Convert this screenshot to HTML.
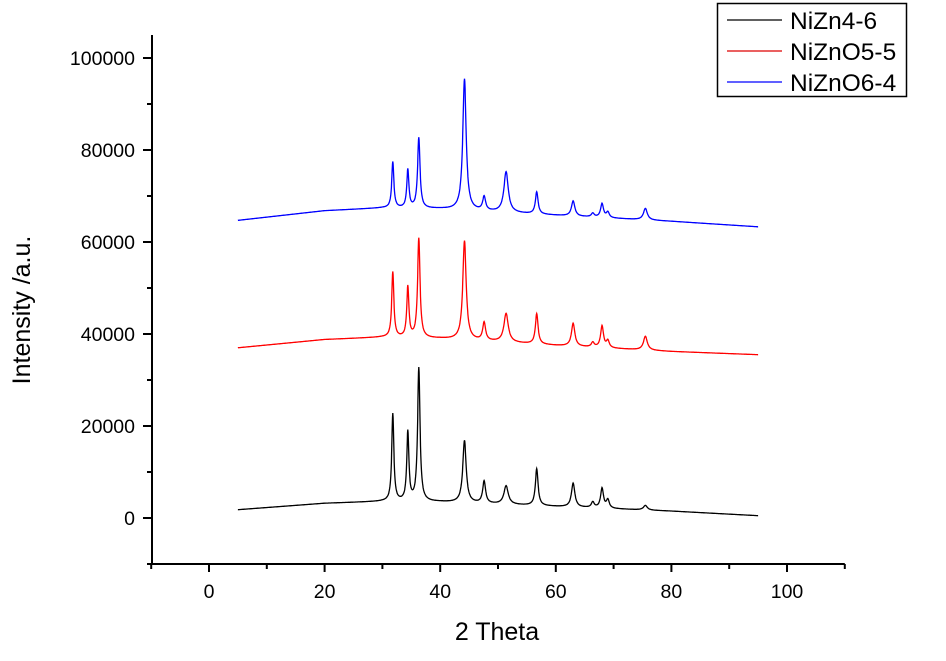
<!DOCTYPE html>
<html><head><meta charset="utf-8"><style>
body{margin:0;background:#fff}
svg{display:block;font-family:"Liberation Sans",Arial,sans-serif}
</style></head><body>
<svg id="chart" width="946" height="661" viewBox="0 0 946 661"></svg>
<script>
// ---- data ----
const peakPositions = [31.8, 34.4, 36.3, 44.2, 47.6, 51.4, 56.7, 63.0, 66.4, 68.0, 69.0, 75.5];
const peakWidths    = [0.22, 0.22, 0.25, 0.35, 0.3, 0.45, 0.28, 0.35, 0.3, 0.3, 0.3, 0.4];
const blackPeaks = [19000, 15000, 29000, 13500, 4800, 4000, 8000, 5200, 1200, 4300, 1800, 1000];
const redPeaks   = [14200, 11000, 21600, 21500, 3900, 6200, 6600, 5000, 1000, 4700, 1500, 3000];
const bluePeaks  = [10000, 8300, 15300, 28500, 3000, 8800, 4800, 3300, 800, 3000, 1200, 2500];
const baseX      = [5, 20, 30, 40, 50, 60, 80, 95];
const blackBase  = [1800, 3200, 3600, 3500, 3000, 2500, 1500, 500];
const redBase    = [37000, 38800, 39300, 39000, 38300, 37500, 36200, 35500];
const blueBase   = [64700, 66800, 67400, 67200, 66500, 65800, 64500, 63300];
const seriesNames = ["NiZn4-6", "NiZnO5-5", "NiZnO6-4"];
const xTicks = [0, 20, 40, 60, 80, 100];
const yTicks = [0, 20000, 40000, 60000, 80000, 100000];

// ---- axes ----
const X = v => 209 + v * 5.78;
const Y = v => 518 - v * 0.0046;
const NS = "http://www.w3.org/2000/svg";
const svg = document.getElementById("chart");
function mk(tag, attrs, parent){const e=document.createElementNS(NS,tag);for(const k in attrs)e.setAttribute(k,attrs[k]);(parent||svg).appendChild(e);return e;}

const axes = mk("g",{});


const yAxis = mk("line",{x1:152,y1:Y(105000),x2:152,y2:Y(-10000),stroke:"#000","stroke-width":2},axes);


const xAxis = mk("line",{x1:151,y1:Y(-10000),x2:X(110),y2:Y(-10000),stroke:"#000","stroke-width":2},axes);


for(let v=-10000; v<=100000; v+=10000){
  const major = v % 20000 === 0;
  mk("line",{x1:major?143:147,y1:Y(v),x2:152,y2:Y(v),stroke:"#000","stroke-width":2},axes);
}
yTicks.forEach(v=>{
  const t = mk("text",{x:135,y:Y(v)+7,"text-anchor":"end","font-size":19.5},axes);
  t.textContent = v;
  
  
});
for(let v=-10; v<=110; v+=10){
  const major = v % 20 === 0;
  mk("line",{x1:X(v),y1:Y(-10000),x2:X(v),y2:Y(-10000)+(major?8:5),stroke:"#000","stroke-width":2},axes);
}
xTicks.forEach(v=>{
  const t = mk("text",{x:X(v),y:598,"text-anchor":"middle","font-size":19.5},axes);
  t.textContent = v;
  
  
});
const xt = mk("text",{x:497,y:640,"text-anchor":"middle","font-size":25});
xt.textContent="2 Theta";


const yt = mk("text",{x:0,y:0,transform:"translate(30,310) rotate(-90)","text-anchor":"middle","font-size":25});
yt.textContent="Intensity /a.u.";



// ---- series ----
function baseAt(x, base){
  for(let i=0;i<baseX.length-1;i++){
    if(x<=baseX[i+1]){const f=(x-baseX[i])/(baseX[i+1]-baseX[i]);return base[i]+f*(base[i+1]-base[i]);}
  }
  return base[base.length-1];
}
function buildPath(base, peaks){
  let d="";
  for(let x=5; x<=95.001; x+=0.05){
    let y = baseAt(x, base);
    for(let i=0;i<peakPositions.length;i++){
      const w=peakWidths[i], dx=(x-peakPositions[i])/w;
      y += peaks[i]/(1+dx*dx);
    }
    d += (d?"L":"M")+X(x).toFixed(1)+","+Y(y).toFixed(1);
  }
  return d;
}
const seriesData = [[blackBase,blackPeaks,"#000","series-nizn4-6"],[redBase,redPeaks,"#f00","series-nizno5-5"],[blueBase,bluePeaks,"#00f","series-nizno6-4"]];
seriesData.forEach(s=>{
  const p = mk("path",{d:buildPath(s[0],s[1]),fill:"none",stroke:s[2],"stroke-width":1.3});
  
  
});

// ---- legend ----
const lg = mk("g",{});


mk("rect",{x:717.5,y:3.5,width:189,height:93,fill:"#fff",stroke:"#000","stroke-width":1.5},lg);
const colors=["#000","#d00","#00f"];
seriesNames.forEach((n,i)=>{
  const yy = 20 + i*31;
  const g = mk("g",{},lg);
  
  
  mk("line",{x1:727,y1:yy,x2:782,y2:yy,stroke:colors[i],"stroke-width":1.3},g);
  const t = mk("text",{x:790,y:yy+9,"font-size":24.5},g);
  t.textContent=n;
});
</script>
</body></html>
